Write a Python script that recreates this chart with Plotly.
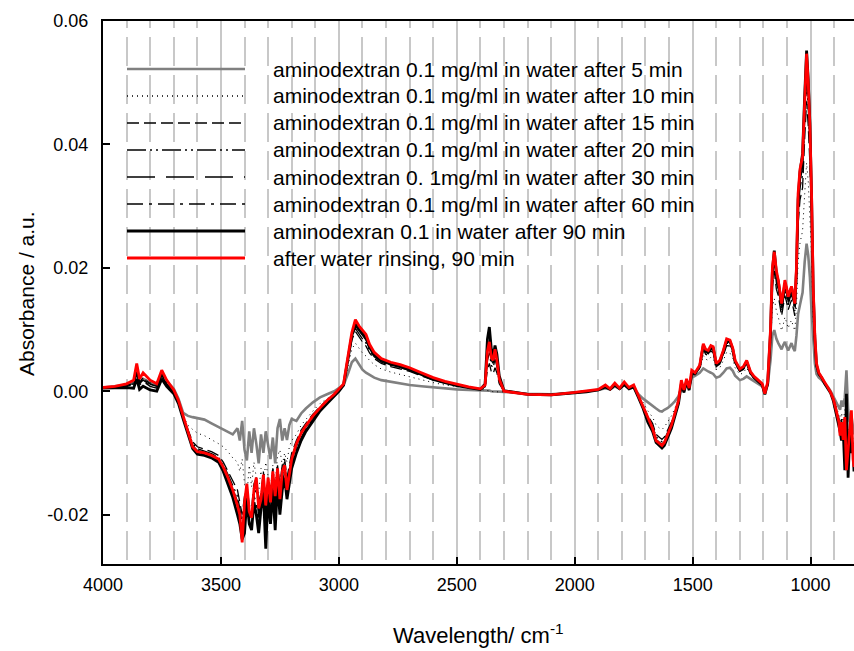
import plotly.graph_objects as go

# wavenumbers (cm-1), descending
wavenumber = [
    4000, 3950, 3900, 3870, 3857, 3845, 3830, 3800, 3772, 3751, 3730, 3700,
    3680, 3660, 3640, 3620, 3600, 3570, 3540, 3510, 3490, 3470, 3450, 3430,
    3420, 3410, 3400, 3390, 3380, 3370, 3360, 3350, 3340, 3330, 3320, 3310, 3300, 3290, 3280, 3270, 3260, 3250, 3240, 3230, 3220, 3210, 3200,
    3180, 3160, 3140, 3110, 3080, 3050, 3020, 3000, 2980, 2960, 2945, 2930, 2915, 2900, 2885, 2870, 2850, 2820, 2780, 2740, 2700, 2650, 2600, 2550, 2500, 2450, 2400,
    2380, 2370, 2362, 2354, 2346, 2338, 2330, 2320, 2300,
    2200, 2100, 2000, 1950, 1900, 1870, 1850, 1830, 1810, 1790, 1770, 1750,
    1730, 1710, 1690, 1670, 1655, 1640, 1630, 1620, 1605, 1590, 1575, 1560, 1548, 1537, 1526, 1515, 1504,
    1490, 1470, 1455, 1445, 1434, 1423, 1413, 1400, 1385, 1370, 1356, 1342, 1330, 1320, 1300, 1285, 1271, 1255, 1240, 1222, 1205, 1194, 1182,
    1170, 1162, 1154, 1145, 1137, 1130, 1123, 1116, 1109, 1102, 1095, 1088, 1081, 1074, 1067, 1060, 1053, 1045, 1034, 1025, 1017, 1010, 1003, 996, 989, 982, 975, 965, 953,
    940, 925, 915, 904, 895, 889, 880, 875, 869, 862, 855, 848, 841, 834, 827, 820, 816,
]

abs_5min = [
    0.0006, 0.0008, 0.0010, 0.0014, 0.0030, 0.0015, 0.0020, 0.0014, 0.0012, 0.0028, 0.0016, 0.0004,
    -0.0012, -0.0035, -0.0040, -0.0042, -0.0044, -0.0046, -0.0052, -0.0058, -0.0062, -0.0065, -0.0070, -0.0060,
    -0.0080, -0.0048, -0.0095, -0.0112, -0.0065, -0.0100, -0.0060, -0.0085, -0.0117, -0.0070, -0.0100, -0.0065, -0.0090, -0.0110, -0.0075, -0.0117, -0.0060, -0.0045, -0.0080, -0.0060, -0.0079, -0.0055, -0.0045,
    -0.0048, -0.0036, -0.0028, -0.0018, -0.0010, -0.0005, 0.0000, 0.0005, 0.0010, 0.0030, 0.0047, 0.0053, 0.0045, 0.0035, 0.0030, 0.0026, 0.0022, 0.0018, 0.0015, 0.0012, 0.0010, 0.0008, 0.0006, 0.0004, 0.0003, 0.0002, 0.0002,
    0.0002, 0.0001, 0.0001, 0.0000, 0.0000, 0.0000, -0.0001, -0.0001, -0.0001,
    -0.0004, -0.0005, -0.0002, 0.0000, 0.0002, 0.0005, 0.0003, 0.0008, 0.0004, 0.0010, 0.0005, 0.0006,
    -0.0005, -0.0012, -0.0018, -0.0025, -0.0028, -0.0032, -0.0033, -0.0030, -0.0027, -0.0022, -0.0016, -0.0008, 0.0005, 0.0002, 0.0012, 0.0008, 0.0022,
    0.0025, 0.0030, 0.0037, 0.0034, 0.0032, 0.0030, 0.0028, 0.0022, 0.0024, 0.0030, 0.0037, 0.0038, 0.0033, 0.0025, 0.0018, 0.0020, 0.0024, 0.0020, 0.0016, 0.0012, 0.0008, 0.0002, 0.0010,
    0.0050, 0.0090, 0.0099, 0.0085, 0.0078, 0.0072, 0.0068, 0.0075, 0.0080, 0.0072, 0.0066, 0.0072, 0.0078, 0.0070, 0.0065, 0.0090, 0.0125, 0.0140, 0.0160, 0.0210, 0.0239, 0.0220, 0.0185, 0.0130, 0.0075, 0.0045, 0.0028, 0.0022, 0.0018,
    0.0013, 0.0006, 0.0000, -0.0008, -0.0015, -0.0020, -0.0025, -0.0030, -0.0015, -0.0025, -0.0010, 0.0034, -0.0030, -0.0050, -0.0040, -0.0060, -0.0070,
]

abs_10min = [
    0.0005, 0.0007, 0.0010, 0.0014, 0.0035, 0.0016, 0.0022, 0.0014, 0.0010, 0.0030, 0.0015, 0.0000,
    -0.0015, -0.0040, -0.0055, -0.0062, -0.0068, -0.0072, -0.0078, -0.0085, -0.0090, -0.0098, -0.0108, -0.0115,
    -0.0130, -0.0110, -0.0150, -0.0170, -0.0120, -0.0155, -0.0115, -0.0140, -0.0165, -0.0125, -0.0150, -0.0115, -0.0140, -0.0160, -0.0120, -0.0150, -0.0105, -0.0095, -0.0120, -0.0100, -0.0115, -0.0090, -0.0080,
    -0.0070, -0.0055, -0.0045, -0.0032, -0.0020, -0.0012, -0.0004, 0.0004, 0.0011, 0.0042, 0.0068, 0.0078, 0.0070, 0.0062, 0.0057, 0.0050, 0.0043, 0.0036, 0.0031, 0.0027, 0.0024, 0.0019, 0.0014, 0.0010, 0.0007, 0.0005, 0.0003,
    0.0002, 0.0002, 0.0001, 0.0000, -0.0001, 0.0000, -0.0001, -0.0001, -0.0001,
    -0.0004, -0.0005, -0.0002, 0.0000, 0.0002, 0.0006, 0.0003, 0.0009, 0.0004, 0.0010, 0.0005, 0.0007,
    -0.0007, -0.0018, -0.0032, -0.0042, -0.0055, -0.0060, -0.0062, -0.0058, -0.0050, -0.0040, -0.0027, -0.0013, 0.0010, 0.0000, 0.0015, 0.0005, 0.0028,
    0.0028, 0.0036, 0.0058, 0.0052, 0.0050, 0.0055, 0.0053, 0.0035, 0.0038, 0.0050, 0.0063, 0.0062, 0.0053, 0.0038, 0.0027, 0.0030, 0.0038, 0.0026, 0.0020, 0.0015, 0.0010, -0.0002, 0.0010,
    0.0075, 0.0135, 0.0150, 0.0130, 0.0120, 0.0108, 0.0098, 0.0108, 0.0120, 0.0112, 0.0102, 0.0110, 0.0115, 0.0106, 0.0098, 0.0135, 0.0210, 0.0240, 0.0260, 0.0320, 0.0370, 0.0340, 0.0290, 0.0220, 0.0115, 0.0065, 0.0035, 0.0026, 0.0020,
    0.0013, 0.0005, -0.0001, -0.0010, -0.0020, -0.0028, -0.0038, -0.0048, -0.0035, -0.0050, -0.0030, -0.0060, -0.0070, -0.0055, -0.0045, -0.0080, -0.0090,
]

abs_15min = [
    0.0005, 0.0007, 0.0009, 0.0013, 0.0034, 0.0014, 0.0022, 0.0012, 0.0008, 0.0029, 0.0012, -0.0001,
    -0.0016, -0.0042, -0.0062, -0.0082, -0.0090, -0.0094, -0.0098, -0.0104, -0.0115, -0.0130, -0.0145, -0.0160,
    -0.0180, -0.0200, -0.0170, -0.0150, -0.0185, -0.0190, -0.0150, -0.0140, -0.0180, -0.0165, -0.0130, -0.0185, -0.0140, -0.0170, -0.0125, -0.0165, -0.0120, -0.0150, -0.0120, -0.0110, -0.0140, -0.0120, -0.0100,
    -0.0080, -0.0063, -0.0052, -0.0037, -0.0025, -0.0014, -0.0005, 0.0003, 0.0011, 0.0052, 0.0083, 0.0097, 0.0088, 0.0080, 0.0073, 0.0062, 0.0053, 0.0045, 0.0040, 0.0036, 0.0032, 0.0025, 0.0018, 0.0013, 0.0009, 0.0006, 0.0003,
    0.0006, 0.0035, 0.0045, 0.0032, 0.0028, 0.0038, 0.0030, 0.0012, 0.0000,
    -0.0005, -0.0005, -0.0002, 0.0000, 0.0003, 0.0007, 0.0003, 0.0010, 0.0005, 0.0012, 0.0005, 0.0008,
    -0.0008, -0.0022, -0.0040, -0.0052, -0.0070, -0.0075, -0.0078, -0.0074, -0.0063, -0.0050, -0.0034, -0.0018, 0.0012, -0.0001, 0.0016, 0.0003, 0.0030,
    0.0029, 0.0039, 0.0068, 0.0060, 0.0058, 0.0065, 0.0063, 0.0040, 0.0044, 0.0058, 0.0074, 0.0073, 0.0062, 0.0044, 0.0032, 0.0035, 0.0044, 0.0029, 0.0022, 0.0016, 0.0011, -0.0003, 0.0012,
    0.0088, 0.0170, 0.0195, 0.0165, 0.0155, 0.0138, 0.0122, 0.0138, 0.0155, 0.0145, 0.0132, 0.0140, 0.0148, 0.0136, 0.0122, 0.0172, 0.0270, 0.0310, 0.0330, 0.0410, 0.0470, 0.0430, 0.0370, 0.0275, 0.0145, 0.0078, 0.0040, 0.0028, 0.0022,
    0.0013, 0.0005, -0.0002, -0.0011, -0.0023, -0.0031, -0.0044, -0.0058, -0.0045, -0.0065, -0.0040, -0.0090, -0.0080, -0.0060, -0.0050, -0.0095, -0.0105,
]

abs_20min = [
    0.0005, 0.0007, 0.0009, 0.0012, 0.0032, 0.0013, 0.0020, 0.0011, 0.0008, 0.0028, 0.0012, -0.0002,
    -0.0016, -0.0043, -0.0064, -0.0085, -0.0093, -0.0097, -0.0101, -0.0107, -0.0119, -0.0135, -0.0152, -0.0170,
    -0.0190, -0.0215, -0.0185, -0.0155, -0.0195, -0.0200, -0.0160, -0.0150, -0.0195, -0.0170, -0.0140, -0.0200, -0.0150, -0.0180, -0.0135, -0.0180, -0.0130, -0.0160, -0.0125, -0.0115, -0.0150, -0.0125, -0.0105,
    -0.0085, -0.0066, -0.0055, -0.0040, -0.0027, -0.0016, -0.0006, 0.0002, 0.0011, 0.0054, 0.0087, 0.0102, 0.0093, 0.0085, 0.0078, 0.0066, 0.0056, 0.0047, 0.0042, 0.0038, 0.0034, 0.0026, 0.0019, 0.0014, 0.0010, 0.0006, 0.0003,
    0.0007, 0.0050, 0.0062, 0.0042, 0.0038, 0.0052, 0.0040, 0.0015, 0.0000,
    -0.0005, -0.0006, -0.0002, 0.0000, 0.0003, 0.0008, 0.0004, 0.0011, 0.0005, 0.0012, 0.0006, 0.0008,
    -0.0009, -0.0024, -0.0043, -0.0056, -0.0074, -0.0079, -0.0082, -0.0078, -0.0066, -0.0053, -0.0036, -0.0019, 0.0013, -0.0001, 0.0017, 0.0003, 0.0031,
    0.0029, 0.0040, 0.0071, 0.0063, 0.0061, 0.0068, 0.0066, 0.0042, 0.0046, 0.0061, 0.0078, 0.0077, 0.0065, 0.0046, 0.0033, 0.0037, 0.0046, 0.0030, 0.0023, 0.0017, 0.0011, -0.0003, 0.0012,
    0.0090, 0.0180, 0.0210, 0.0175, 0.0165, 0.0146, 0.0130, 0.0146, 0.0165, 0.0154, 0.0140, 0.0150, 0.0157, 0.0145, 0.0130, 0.0182, 0.0290, 0.0330, 0.0350, 0.0440, 0.0500, 0.0460, 0.0395, 0.0295, 0.0155, 0.0080, 0.0041, 0.0028, 0.0022,
    0.0013, 0.0005, -0.0002, -0.0012, -0.0024, -0.0033, -0.0047, -0.0062, -0.0050, -0.0070, -0.0060, -0.0100, -0.0100, -0.0065, -0.0060, -0.0100, -0.0115,
]

abs_30min = [
    0.0005, 0.0006, 0.0008, 0.0011, 0.0030, 0.0012, 0.0018, 0.0010, 0.0006, 0.0026, 0.0011, -0.0002,
    -0.0017, -0.0044, -0.0066, -0.0088, -0.0096, -0.0099, -0.0104, -0.0110, -0.0123, -0.0140, -0.0158, -0.0178,
    -0.0200, -0.0225, -0.0195, -0.0160, -0.0205, -0.0210, -0.0165, -0.0160, -0.0205, -0.0180, -0.0150, -0.0215, -0.0155, -0.0190, -0.0140, -0.0195, -0.0135, -0.0175, -0.0135, -0.0125, -0.0160, -0.0135, -0.0112,
    -0.0090, -0.0070, -0.0058, -0.0043, -0.0029, -0.0018, -0.0007, 0.0001, 0.0010, 0.0055, 0.0089, 0.0106, 0.0098, 0.0090, 0.0083, 0.0069, 0.0058, 0.0049, 0.0043, 0.0039, 0.0035, 0.0027, 0.0020, 0.0014, 0.0010, 0.0006, 0.0003,
    0.0008, 0.0060, 0.0075, 0.0050, 0.0045, 0.0062, 0.0048, 0.0018, 0.0000,
    -0.0005, -0.0006, -0.0003, 0.0000, 0.0002, 0.0008, 0.0003, 0.0011, 0.0004, 0.0013, 0.0005, 0.0009,
    -0.0009, -0.0026, -0.0046, -0.0060, -0.0078, -0.0083, -0.0086, -0.0082, -0.0070, -0.0056, -0.0038, -0.0020, 0.0013, -0.0002, 0.0016, 0.0002, 0.0030,
    0.0029, 0.0041, 0.0073, 0.0065, 0.0063, 0.0070, 0.0068, 0.0043, 0.0047, 0.0063, 0.0080, 0.0079, 0.0067, 0.0047, 0.0034, 0.0038, 0.0047, 0.0030, 0.0023, 0.0017, 0.0011, -0.0004, 0.0012,
    0.0092, 0.0188, 0.0218, 0.0182, 0.0170, 0.0151, 0.0135, 0.0151, 0.0170, 0.0159, 0.0145, 0.0155, 0.0162, 0.0150, 0.0135, 0.0188, 0.0300, 0.0340, 0.0362, 0.0455, 0.0520, 0.0478, 0.0410, 0.0305, 0.0160, 0.0082, 0.0042, 0.0028, 0.0022,
    0.0012, 0.0004, -0.0002, -0.0013, -0.0026, -0.0035, -0.0050, -0.0064, -0.0060, -0.0068, -0.0090, -0.0070, -0.0115, -0.0068, -0.0075, -0.0095, -0.0120,
]

abs_60min = [
    0.0005, 0.0006, 0.0008, 0.0010, 0.0028, 0.0010, 0.0016, 0.0008, 0.0005, 0.0025, 0.0010, -0.0003,
    -0.0018, -0.0045, -0.0068, -0.0090, -0.0099, -0.0102, -0.0106, -0.0113, -0.0127, -0.0145, -0.0165, -0.0190,
    -0.0210, -0.0235, -0.0210, -0.0165, -0.0210, -0.0220, -0.0170, -0.0180, -0.0220, -0.0185, -0.0160, -0.0235, -0.0160, -0.0205, -0.0150, -0.0210, -0.0140, -0.0190, -0.0150, -0.0130, -0.0170, -0.0145, -0.0118,
    -0.0095, -0.0075, -0.0061, -0.0045, -0.0030, -0.0019, -0.0008, 0.0000, 0.0010, 0.0056, 0.0091, 0.0110, 0.0101, 0.0093, 0.0086, 0.0071, 0.0060, 0.0051, 0.0045, 0.0041, 0.0036, 0.0028, 0.0021, 0.0015, 0.0010, 0.0006, 0.0003,
    0.0009, 0.0070, 0.0088, 0.0060, 0.0050, 0.0066, 0.0052, 0.0020, 0.0000,
    -0.0005, -0.0006, -0.0003, -0.0001, 0.0002, 0.0008, 0.0003, 0.0011, 0.0004, 0.0012, 0.0005, 0.0008,
    -0.0010, -0.0027, -0.0048, -0.0063, -0.0081, -0.0086, -0.0090, -0.0086, -0.0073, -0.0059, -0.0040, -0.0021, 0.0012, -0.0002, 0.0016, 0.0002, 0.0029,
    0.0028, 0.0040, 0.0074, 0.0066, 0.0064, 0.0071, 0.0069, 0.0044, 0.0048, 0.0064, 0.0082, 0.0081, 0.0068, 0.0048, 0.0035, 0.0039, 0.0048, 0.0031, 0.0023, 0.0017, 0.0011, -0.0004, 0.0012,
    0.0094, 0.0192, 0.0223, 0.0186, 0.0174, 0.0155, 0.0138, 0.0153, 0.0173, 0.0162, 0.0148, 0.0158, 0.0165, 0.0153, 0.0138, 0.0192, 0.0305, 0.0350, 0.0375, 0.0468, 0.0540, 0.0492, 0.0425, 0.0315, 0.0163, 0.0084, 0.0042, 0.0028, 0.0022,
    0.0012, 0.0004, -0.0003, -0.0014, -0.0028, -0.0038, -0.0055, -0.0066, -0.0070, -0.0065, -0.0110, -0.0040, -0.0125, -0.0070, -0.0090, -0.0092, -0.0125,
]

abs_90min = [
    0.0005, 0.0006, 0.0006, 0.0005, 0.0020, 0.0003, 0.0008, 0.0002, 0.0000, 0.0020, 0.0008, -0.0004,
    -0.0020, -0.0045, -0.0070, -0.0093, -0.0102, -0.0104, -0.0108, -0.0115, -0.0130, -0.0150, -0.0172, -0.0200,
    -0.0215, -0.0240, -0.0230, -0.0175, -0.0215, -0.0225, -0.0180, -0.0200, -0.0230, -0.0190, -0.0165, -0.0255, -0.0170, -0.0215, -0.0160, -0.0225, -0.0150, -0.0200, -0.0160, -0.0140, -0.0175, -0.0150, -0.0125,
    -0.0100, -0.0080, -0.0065, -0.0048, -0.0032, -0.0020, -0.0008, 0.0000, 0.0010, 0.0055, 0.0090, 0.0110, 0.0100, 0.0094, 0.0087, 0.0071, 0.0059, 0.0050, 0.0044, 0.0040, 0.0035, 0.0027, 0.0019, 0.0014, 0.0009, 0.0006, 0.0003,
    0.0012, 0.0085, 0.0104, 0.0070, 0.0055, 0.0074, 0.0060, 0.0025, 0.0001,
    -0.0005, -0.0006, -0.0003, -0.0001, 0.0002, 0.0007, 0.0003, 0.0010, 0.0004, 0.0011, 0.0004, 0.0007,
    -0.0010, -0.0028, -0.0050, -0.0065, -0.0083, -0.0088, -0.0092, -0.0088, -0.0075, -0.0060, -0.0040, -0.0020, 0.0012, -0.0002, 0.0015, 0.0002, 0.0028,
    0.0028, 0.0040, 0.0074, 0.0066, 0.0063, 0.0071, 0.0070, 0.0043, 0.0048, 0.0064, 0.0082, 0.0081, 0.0068, 0.0048, 0.0034, 0.0038, 0.0048, 0.0030, 0.0022, 0.0016, 0.0010, -0.0005, 0.0012,
    0.0095, 0.0195, 0.0228, 0.0190, 0.0178, 0.0158, 0.0140, 0.0155, 0.0175, 0.0165, 0.0150, 0.0160, 0.0168, 0.0155, 0.0140, 0.0195, 0.0310, 0.0355, 0.0385, 0.0480, 0.0552, 0.0505, 0.0435, 0.0320, 0.0165, 0.0085, 0.0042, 0.0028, 0.0022,
    0.0012, 0.0004, -0.0003, -0.0015, -0.0030, -0.0040, -0.0058, -0.0065, -0.0080, -0.0060, -0.0128, -0.0004, -0.0140, -0.0070, -0.0100, -0.0090, -0.0130,
]

abs_rinsed = [
    0.0006, 0.0008, 0.0012, 0.0018, 0.0045, 0.0020, 0.0030, 0.0018, 0.0012, 0.0034, 0.0018, 0.0002,
    -0.0015, -0.0042, -0.0065, -0.0090, -0.0098, -0.0100, -0.0104, -0.0110, -0.0123, -0.0140, -0.0160, -0.0185,
    -0.0200, -0.0245, -0.0180, -0.0150, -0.0195, -0.0205, -0.0160, -0.0140, -0.0190, -0.0175, -0.0135, -0.0185, -0.0140, -0.0180, -0.0130, -0.0170, -0.0125, -0.0175, -0.0130, -0.0120, -0.0160, -0.0135, -0.0110,
    -0.0085, -0.0068, -0.0056, -0.0040, -0.0027, -0.0015, -0.0005, 0.0003, 0.0012, 0.0060, 0.0095, 0.0116, 0.0106, 0.0099, 0.0092, 0.0076, 0.0063, 0.0053, 0.0047, 0.0043, 0.0038, 0.0030, 0.0022, 0.0016, 0.0011, 0.0007, 0.0004,
    0.0010, 0.0065, 0.0080, 0.0055, 0.0050, 0.0068, 0.0050, 0.0020, 0.0000,
    -0.0005, -0.0006, -0.0002, 0.0000, 0.0003, 0.0010, 0.0004, 0.0013, 0.0005, 0.0015, 0.0006, 0.0010,
    -0.0008, -0.0025, -0.0045, -0.0060, -0.0080, -0.0085, -0.0088, -0.0083, -0.0070, -0.0055, -0.0035, -0.0015, 0.0018, 0.0002, 0.0020, 0.0005, 0.0034,
    0.0030, 0.0042, 0.0077, 0.0068, 0.0066, 0.0074, 0.0072, 0.0045, 0.0050, 0.0066, 0.0085, 0.0083, 0.0070, 0.0050, 0.0036, 0.0040, 0.0050, 0.0032, 0.0024, 0.0018, 0.0012, -0.0004, 0.0015,
    0.0100, 0.0200, 0.0226, 0.0195, 0.0180, 0.0160, 0.0142, 0.0160, 0.0180, 0.0168, 0.0153, 0.0162, 0.0170, 0.0158, 0.0142, 0.0200, 0.0320, 0.0360, 0.0380, 0.0470, 0.0547, 0.0500, 0.0430, 0.0320, 0.0169, 0.0090, 0.0045, 0.0030, 0.0023,
    0.0014, 0.0005, -0.0002, -0.0012, -0.0025, -0.0035, -0.0050, -0.0072, -0.0050, -0.0079, -0.0042, -0.0128, -0.0090, -0.0060, -0.0031, -0.0110, -0.0123,
]

series_names = [
    "aminodextran 0.1 mg/ml in water after 5 min",
    "aminodextran 0.1 mg/ml in water after 10 min",
    "aminodextran 0.1 mg/ml in water after 15 min",
    "aminodextran 0.1 mg/ml in water after 20 min",
    "aminodextran 0. 1mg/ml in water after 30 min",
    "aminodextran 0.1 mg/ml in water after 60 min",
    "aminodexran 0.1 in water after 90 min",
    "after water rinsing, 90 min",
]
series_values = [abs_5min, abs_10min, abs_15min, abs_20min, abs_30min, abs_60min, abs_90min, abs_rinsed]

x_ticks = [4000, 3500, 3000, 2500, 2000, 1500, 1000]
y_ticks = [-0.02, 0.00, 0.02, 0.04, 0.06]
y_ticktext = ["-0.02", "0.00", "0.02", "0.04", "0.06"]

for v in series_values:
    assert len(v) == len(wavenumber), (len(v), len(wavenumber))

styles = [
    dict(color="#808080", width=2.6, dash="solid"),
    dict(color="black", width=1, dash="1px,4px"),
    dict(color="black", width=1.3, dash="12px,5px"),
    dict(color="black", width=1.3, dash="19px,4px,2px,4px,2px,4px"),
    dict(color="black", width=1.3, dash="28px,11px"),
    dict(color="black", width=1.3, dash="16px,6px,3px,6px"),
    dict(color="black", width=2.8, dash="solid"),
    dict(color="#ff0000", width=2.8, dash="solid"),
]

FONT = "Arial, Liberation Sans, sans-serif"
fig = go.Figure()
for name, vals, st in zip(series_names, series_values, styles):
    fig.add_trace(go.Scatter(x=wavenumber, y=vals, mode="lines", name=name,
                             line=st, showlegend=False))

# manual legend (long line samples like the original)
L, R, T, B = 103, 854, 21, 564
W, H = R - L, B - T
def px_x(p):
    return (p - L) / W
def px_y(p):
    return (B - p) / H

shapes = []
annotations = []
for i, (name, st) in enumerate(zip(series_names, styles)):
    yy = px_y(69 + 27.0 * i)
    shapes.append(dict(type="line", xref="paper", yref="paper",
                       x0=px_x(127), x1=px_x(245), y0=yy, y1=yy,
                       line=dict(color=st["color"], width=max(st["width"], 1.5), dash=st["dash"])))
    annotations.append(dict(text=name, xref="paper", yref="paper", x=px_x(271), y=yy,
                            xanchor="left", yanchor="middle", showarrow=False,
                            font=dict(family=FONT, size=21, color="black")))

annotations.append(dict(text="Absorbance / a.u.", xref="paper", yref="paper",
                        x=px_x(27), y=px_y(294), textangle=-90, showarrow=False,
                        xanchor="center", yanchor="middle",
                        font=dict(family=FONT, size=21, color="black")))
annotations.append(dict(text="Wavelength/ cm<sup>-1</sup>", xref="paper", yref="paper",
                        x=0.5, y=px_y(634), showarrow=False,
                        xanchor="center", yanchor="middle",
                        font=dict(family=FONT, size=22, color="black")))

grid_dash = "7px,9px," + ",".join(["29px,9px"] * 14)

fig.update_layout(
    width=854, height=651,
    margin=dict(l=L, r=854 - R, t=T, b=651 - B, pad=0),
    paper_bgcolor="white", plot_bgcolor="white",
    showlegend=False,
    shapes=shapes, annotations=annotations,
    font=dict(family=FONT, size=18, color="black"),
)
fig.update_xaxes(
    range=[4000, 816], tickvals=x_ticks, ticks="inside", ticklen=7, tickwidth=1.5,
    tickcolor="black", showline=True, linecolor="black", linewidth=2, mirror=True,
    showgrid=True, gridcolor="#c8c8c8", gridwidth=1.6, zeroline=False,
    tickfont=dict(family=FONT, size=18, color="black"), ticklabelstandoff=3,
    minor=dict(dtick=100, tick0=0, showgrid=True, gridcolor="#c8c8c8", gridwidth=1.6,
               griddash=grid_dash, ticks=""),
)
fig.update_yaxes(
    range=[-0.028, 0.06], tickvals=y_ticks, ticktext=y_ticktext, ticks="inside",
    ticklen=7, tickwidth=1.5, tickcolor="black", showline=True, linecolor="black",
    linewidth=2, showgrid=False, zeroline=False, ticklabelstandoff=9,
    tickfont=dict(family=FONT, size=18, color="black"),
)

fig.write_html("out.html")
